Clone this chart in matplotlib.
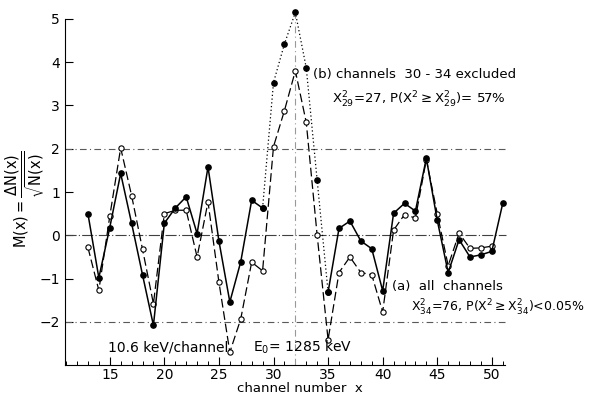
import numpy as np
import matplotlib
matplotlib.use("Agg")
import matplotlib.pyplot as plt

plt.rcParams['mathtext.fontset'] = 'dejavusans'
plt.rcParams['font.family'] = ['DejaVu Sans']

# channel numbers
channels = list(range(13, 52))

# filled points, solid line (dotted across the peak, channels 29-35)
m_filled = [0.50, -0.98, 0.18, 1.43, 0.28, -0.91, -2.08, 0.28, 0.63, 0.89,
            0.04, 1.58, -0.13, -1.54, -0.61, 0.81, 0.63, 3.53, 4.42, 5.15,
            3.87, 1.27, -1.31, 0.16, 0.33, -0.13, -0.31, -1.28, 0.51, 0.74,
            0.56, 1.78, 0.35, -0.86, -0.10, -0.50, -0.45, -0.37, 0.74]

# open points, dashed line (channels 13-50)
channels_open = list(range(13, 51))
m_open = [-0.28, -1.27, 0.44, 2.02, 0.92, -0.32, -1.58, 0.50, 0.58, 0.58,
          -0.50, 0.77, -1.08, -2.70, -1.93, -0.62, -0.82, 2.05, 2.88, 3.80,
          2.61, 0.00, -2.41, -0.86, -0.50, -0.86, -0.91, -1.77, 0.12, 0.48,
          0.40, 1.75, 0.50, -0.70, 0.05, -0.30, -0.29, -0.25]

x_ticks = [15, 20, 25, 30, 35, 40, 45, 50]
y_ticks = [-2, -1, 0, 1, 2, 3, 4, 5]

fig = plt.figure(figsize=(5.92, 3.99), dpi=100)
ax = fig.add_axes([65 / 592, 0.0847, 470.5 / 592, 0.9113])
ax.set_xlim(10.9, 54)
ax.set_ylim(-3.0, 5.4)

# reference lines
for yv in (2, -2):
    ax.plot([10.9, 51.3], [yv, yv], color='0.35', lw=0.8, ls=(0, (6, 3, 1, 3)))
ax.plot([10.9, 51.3], [0, 0], color='0.25', lw=0.8, ls=(0, (10, 2, 1, 2)))
ax.plot([32, 32], [-3, 5.1], color='0.6', lw=0.8, ls=(0, (6, 3, 1, 3)))

ch = np.array(channels)
mf = np.array(m_filled)
lo = ch <= 29
hi = ch >= 35
pk = (ch >= 29) & (ch <= 35)

ax.plot(channels_open, m_open, color='black', lw=0.9, ls=(0, (7, 3)),
        marker='o', ms=3.8, mfc='white', mec='black', mew=0.8, zorder=3)
ax.plot(ch[lo], mf[lo], color='black', lw=1.1, marker='o', ms=3.8,
        mfc='black', mec='black', zorder=4)
ax.plot(ch[hi], mf[hi], color='black', lw=1.1, marker='o', ms=3.8,
        mfc='black', mec='black', zorder=4)
ax.plot(ch[pk], mf[pk], color='black', lw=0.9, ls=(0, (1, 2)),
        marker='o', ms=3.8, mfc='black', mec='black', zorder=4)

# axes
for s in ('top', 'right'):
    ax.spines[s].set_visible(False)
ax.spines['left'].set_bounds(-3, 5)
ax.spines['bottom'].set_bounds(10.9, 51.2)
ax.set_xticks(x_ticks)
ax.set_xticks(range(11, 52), minor=True)
ax.set_yticks(y_ticks)
ax.set_yticklabels(['\u22122', '\u22121', '0', '1', '2', '3', '4', '5'])
ax.tick_params(direction='in', length=6, width=0.8, labelsize=10)
ax.tick_params(which='minor', direction='in', length=3, width=0.7)
ax.tick_params(axis='x', pad=2)

ax.set_xlabel('channel number  x', fontsize=9.5, labelpad=0)
fig.text(0.042, 0.5, r'$\mathrm{M(x)}=\dfrac{\Delta \mathrm{N(x)}}{\sqrt{\mathrm{N(x)}}}$',
         rotation=90, fontsize=10.5, ha='center', va='center')

# annotations
ax.text(33.6, 3.72, '(b) channels  30 - 34 excluded', fontsize=9.5, va='center')
ax.text(35.4, 3.12, r'$\mathrm{X}^2_{29}$=27, P($\mathrm{X}^2\geq\mathrm{X}^2_{29}$)= 57%',
        fontsize=9.5, va='center')
ax.text(40.9, -1.19, '(a)  all  channels', fontsize=9.5, va='center')
ax.text(42.6, -1.67, r'$\mathrm{X}^2_{34}$=76, P($\mathrm{X}^2\geq\mathrm{X}^2_{34}$)<0.05%',
        fontsize=9, va='center')
ax.text(14.8, -2.58, '10.6 keV/channel', fontsize=10, va='center')
ax.text(28.1, -2.58, r'E$_0$= 1285 keV', fontsize=10, va='center')

fig.savefig('out.png', dpi=100)
